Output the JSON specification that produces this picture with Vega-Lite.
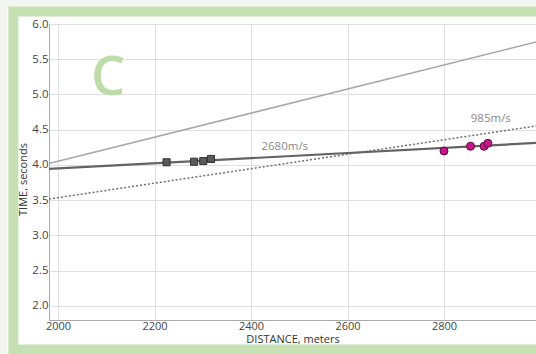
{
  "$schema": "https://vega.github.io/schema/vega-lite/v6.json",
  "width": 487,
  "height": 296,
  "autosize": {"type": "none"},
  "padding": {"left": 49, "top": 24, "right": 0, "bottom": 34},
  "background": "#ffffff",
  "config": {
    "view": {"stroke": null},
    "font": "Open Sans",
    "axis": {
      "gridColor": "#e0e0e0",
      "gridWidth": 1,
      "domainColor": "#aaaaaa",
      "ticks": false,
      "labelOverlap": false,
      "labelFont": "Open Sans",
      "labelFontSize": 11.5,
      "labelColor": "#444444",
      "titleFont": "Open Sans",
      "titleFontSize": 11,
      "titleFontWeight": "normal",
      "titleColor": "#333333"
    }
  },
  "data": {"values": [{}]},
  "datasets": {
    "lines": [
      {"line": "air", "x": 1981.3, "y": 4.02},
      {"line": "air", "x": 2990.7, "y": 5.745},
      {"line": "v2680", "x": 1981.3, "y": 3.943},
      {"line": "v2680", "x": 2990.7, "y": 4.312},
      {"line": "v985", "x": 1981.3, "y": 3.517},
      {"line": "v985", "x": 2990.7, "y": 4.553}
    ],
    "points": [
      {"group": "near", "x": 2225, "y": 4.038},
      {"group": "near", "x": 2282, "y": 4.046},
      {"group": "near", "x": 2301, "y": 4.056},
      {"group": "near", "x": 2317, "y": 4.085},
      {"group": "far", "x": 2800, "y": 4.198},
      {"group": "far", "x": 2855, "y": 4.265},
      {"group": "far", "x": 2883, "y": 4.265},
      {"group": "far", "x": 2891, "y": 4.307}
    ],
    "labels": [
      {"label": "2680m/s", "x": 2470, "y": 4.255},
      {"label": "985m/s", "x": 2897, "y": 4.648}
    ]
  },
  "layer": [
    {
      "data": {"name": "lines"},
      "transform": [{"filter": "datum.line === 'air'"}],
      "mark": {"type": "line", "color": "#a8a8a8", "strokeWidth": 1.6},
      "encoding": {
        "x": {
          "field": "x", "type": "quantitative",
          "scale": {"domain": [1981.3, 2990.7], "nice": false, "zero": false},
          "axis": {"values": [2000, 2200, 2400, 2600, 2800], "format": "d", "title": "DISTANCE, meters", "labelFontSize": 11, "labelPadding": 0, "titlePadding": 2}
        },
        "y": {
          "field": "y", "type": "quantitative",
          "scale": {"domain": [1.8, 6.0], "nice": false, "zero": false},
          "axis": {"values": [2, 2.5, 3, 3.5, 4, 4.5, 5, 5.5, 6], "tickCount": 9, "format": ".1f", "title": "TIME, seconds", "labelPadding": 1, "titlePadding": 3, "titleY": 155}
        }
      }
    },
    {
      "mark": {"type": "rect", "fill": null, "stroke": "#f3f6f0", "strokeWidth": 14, "clip": false},
      "encoding": {
        "x": {"datum": 1879.7, "type": "quantitative"},
        "x2": {"datum": 3040},
        "y": {"datum": 6.3405, "type": "quantitative"},
        "y2": {"datum": 1.2}
      }
    },
    {
      "mark": {"type": "rect", "fill": null, "stroke": "#c5e0b3", "strokeWidth": 10, "clip": false},
      "encoding": {
        "x": {"datum": 1907.5, "type": "quantitative"},
        "x2": {"datum": 3040},
        "y": {"datum": 6.1774, "type": "quantitative"},
        "y2": {"datum": 1.3814}
      }
    },
    {
      "mark": {"type": "text", "text": "C", "fontSize": 54, "fontWeight": 600, "font": "Open Sans", "color": "#bddca7", "align": "center", "baseline": "alphabetic"},
      "encoding": {
        "x": {"datum": 2104, "type": "quantitative"},
        "y": {"datum": 4.99, "type": "quantitative"}
      }
    },
    {
      "data": {"name": "lines"},
      "transform": [{"filter": "datum.line === 'v985'"}],
      "mark": {"type": "line", "color": "#707070", "strokeWidth": 1.5, "strokeDash": [2, 2]},
      "encoding": {
        "x": {"field": "x", "type": "quantitative"},
        "y": {"field": "y", "type": "quantitative"}
      }
    },
    {
      "data": {"name": "lines"},
      "transform": [{"filter": "datum.line === 'v2680'"}],
      "mark": {"type": "line", "color": "#636363", "strokeWidth": 2.2},
      "encoding": {
        "x": {"field": "x", "type": "quantitative"},
        "y": {"field": "y", "type": "quantitative"}
      }
    },
    {
      "data": {"name": "points"},
      "transform": [{"filter": "datum.group === 'near'"}],
      "mark": {"type": "point", "shape": "square", "filled": true, "size": 50, "fill": "#5a5a5a", "stroke": "#333333", "strokeWidth": 1, "opacity": 1},
      "encoding": {
        "x": {"field": "x", "type": "quantitative"},
        "y": {"field": "y", "type": "quantitative"}
      }
    },
    {
      "data": {"name": "points"},
      "transform": [{"filter": "datum.group === 'far'"}],
      "mark": {"type": "point", "shape": "circle", "filled": true, "size": 64, "fill": "#c8168c", "stroke": "#5c0a42", "strokeWidth": 1, "opacity": 1},
      "encoding": {
        "x": {"field": "x", "type": "quantitative"},
        "y": {"field": "y", "type": "quantitative"}
      }
    },
    {
      "data": {"name": "labels"},
      "mark": {"type": "text", "fontSize": 11.5, "font": "Open Sans", "color": "#8a8a8a", "align": "center", "baseline": "middle"},
      "encoding": {
        "x": {"field": "x", "type": "quantitative"},
        "y": {"field": "y", "type": "quantitative"},
        "text": {"field": "label"}
      }
    }
  ]
}
